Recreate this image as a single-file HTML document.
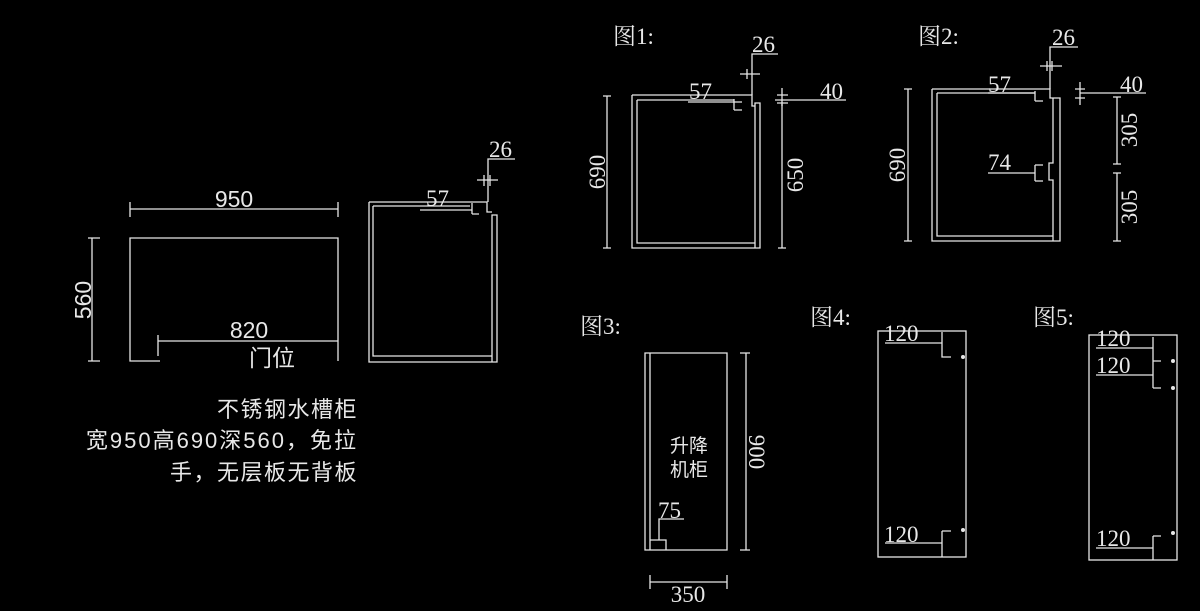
<!DOCTYPE html>
<html><head><meta charset="utf-8"><style>
html,body{margin:0;padding:0;background:#000;}
svg{display:block}
text{fill:#e8e8e8;font-family:"Liberation Serif","Noto Serif CJK SC",serif;}
.s{font-family:"Liberation Sans","Noto Sans CJK SC",sans-serif;}
.c{font-family:"Liberation Sans","Noto Sans CJK SC",sans-serif;}
</style></head><body>
<svg width="1200" height="611" viewBox="0 0 1200 611" xmlns="http://www.w3.org/2000/svg">
<g stroke="#e6e6e6" stroke-width="1.3" fill="none">
<path d="M160 361 H130 V238 H338 V361"/>
<path d="M130 209 H338 M130 202 V217 M338 202 V217"/>
<path d="M92 238 V361 M88 238 H100 M88 361 H100"/>
<path d="M158 341 H338 M158 335 V356"/>
<path d="M369 202 H487 V212 H492 M369 202 V362 H497 V215 H492 V362"/>
<path d="M373 206 H470 M373 206 V356 H492"/>
<path d="M420 210 H472 M472 203 V214 M472 214 H479"/>
<path d="M488 202 V159 H515 M477 180 H498 M484 175 V186 M490 175 V186"/>
<path d="M632 95 H752 V106 H755 M632 95 V248 H760 V103 H755 V248"/>
<path d="M637 100 H734 M637 100 V243 H755"/>
<path d="M688 102 H742 M734 99 V110 M734 110 H742"/>
<path d="M752 95 V54 H778 M740 74 H760 M747 69 V79 M752 69 V79"/>
<path d="M775 100 H846 M782 88 V106 M777 95 H788 M777 103 H788"/>
<path d="M607 96 V248 M603 96 H611 M603 248 H611"/>
<path d="M782 104 V248 M778 248 H786"/>
<path d="M932 89 H1050 V98 H1053 M932 89 V241 H1060 V98 H1053 V163 H1049 V180 H1053 V241"/>
<path d="M937 93 H1035 M937 93 V236 H1053"/>
<path d="M988 93 H1035 M1035 91 V101 M1035 101 H1043"/>
<path d="M988 173 H1035 M1035 165 V181 M1035 165 H1043 M1035 181 H1043"/>
<path d="M1050 89 V47 H1078 M1040 66 H1062 M1047 61 V71 M1052 61 V71"/>
<path d="M1080 93 H1146 M1080 82 V105 M1075 89 H1085 M1075 98 H1085"/>
<path d="M908 89 V241 M904 89 H912 M904 241 H912"/>
<path d="M1117 97 V164 M1113 97 H1121 M1113 164 H1121 M1117 173 V241 M1113 173 H1121 M1113 241 H1121"/>
<path d="M645 353 H727 V550 H645 Z M650 353 V550"/>
<path d="M746 353 V550 M740 353 H750 M740 550 H750"/>
<path d="M650 582 H727 M650 575 V589 M727 575 V589"/>
<path d="M650 540 H666 V550 M659 540 V519 H684"/>
<rect x="878" y="331" width="88" height="226"/>
<path d="M885 343 H942 M942 332 V357 H951"/>
<path d="M885 543 H942 M942 531 V557 M942 531 H951"/>
<rect x="1089" y="335" width="88" height="225"/>
<path d="M1096 348 H1153 M1096 375 H1153 M1153 337 V388 M1153 361 H1161 M1153 388 H1161"/>
<path d="M1096 548 H1153 M1153 536 V560 M1153 536 H1161"/>
</g>
<g fill="#e6e6e6">
<circle cx="963" cy="357" r="2"/><circle cx="963" cy="530" r="2"/>
<circle cx="1173" cy="361" r="2"/><circle cx="1173" cy="388" r="2"/><circle cx="1173" cy="533" r="2"/>
</g>
<text class="s" x="234" y="207" text-anchor="middle" font-size="23">950</text>
<text class="s" x="0" y="0" font-size="23" text-anchor="middle" transform="translate(91,300) rotate(-90)">560</text>
<text class="s" x="249" y="338" text-anchor="middle" font-size="23">820</text>
<text class="c" x="272" y="366" text-anchor="middle" font-size="23">门位</text>
<text class="c" x="358" y="417" text-anchor="end" font-size="22" letter-spacing="1.5">不锈钢水槽柜</text>
<text class="c" x="358" y="448" text-anchor="end" font-size="22" letter-spacing="2">宽950高690深560，免拉</text>
<text class="c" x="358" y="480" text-anchor="end" font-size="22" letter-spacing="1.5">手，无层板无背板</text>
<text x="426" y="206" font-size="23">57</text>
<text x="489" y="157" font-size="23">26</text>
<text x="613" y="44" font-size="23">图1:</text>
<text x="689" y="99" font-size="23">57</text>
<text x="752" y="52" font-size="23">26</text>
<text x="820" y="99" font-size="23">40</text>
<text x="0" y="0" font-size="23" text-anchor="middle" transform="translate(605,172) rotate(-90)">690</text>
<text x="0" y="0" font-size="23" text-anchor="middle" transform="translate(803,175) rotate(-90)">650</text>
<text x="918" y="44" font-size="23">图2:</text>
<text x="988" y="92" font-size="23">57</text>
<text x="1052" y="45" font-size="23">26</text>
<text x="1120" y="92" font-size="23">40</text>
<text x="988" y="170" font-size="23">74</text>
<text x="0" y="0" font-size="23" text-anchor="middle" transform="translate(905,165) rotate(-90)">690</text>
<text x="0" y="0" font-size="23" text-anchor="middle" transform="translate(1137,130) rotate(-90)">305</text>
<text x="0" y="0" font-size="23" text-anchor="middle" transform="translate(1137,207) rotate(-90)">305</text>
<text x="580" y="334" font-size="23">图3:</text>
<text class="c" x="689" y="452" text-anchor="middle" font-size="19">升降</text>
<text class="c" x="689" y="476" text-anchor="middle" font-size="19">机柜</text>
<text x="658" y="518" font-size="23">75</text>
<text x="0" y="0" font-size="23" text-anchor="middle" transform="translate(749,452) rotate(90)">900</text>
<text x="688" y="602" text-anchor="middle" font-size="23">350</text>
<text x="810" y="325" font-size="23">图4:</text>
<text x="884" y="341" font-size="23">120</text>
<text x="884" y="542" font-size="23">120</text>
<text x="1033" y="325" font-size="23">图5:</text>
<text x="1096" y="346" font-size="23">120</text>
<text x="1096" y="373" font-size="23">120</text>
<text x="1096" y="546" font-size="23">120</text>
</svg>
</body></html>
